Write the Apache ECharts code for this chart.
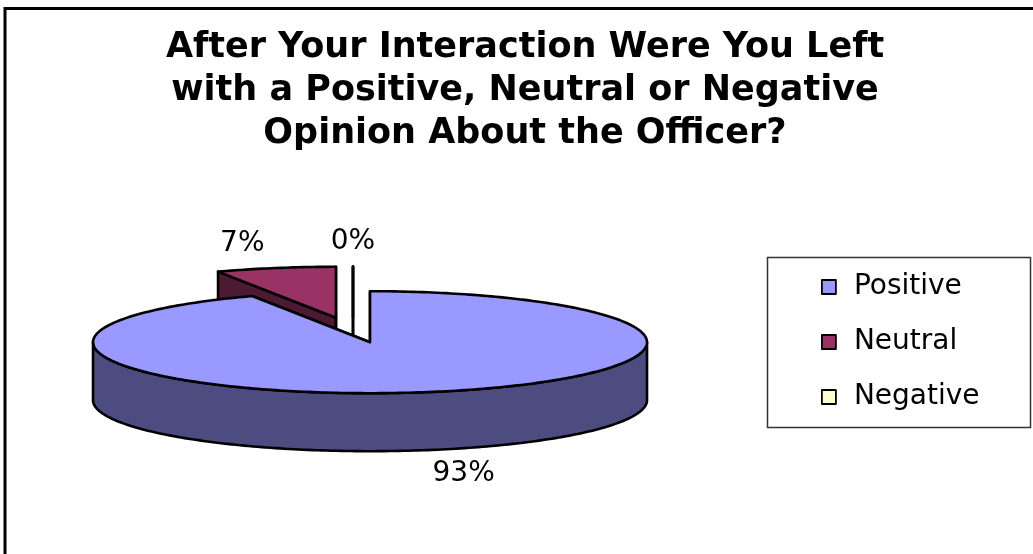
<!DOCTYPE html>
<html>
<head>
<meta charset="utf-8">
<script src="https://cdn.jsdelivr.net/npm/echarts@6/dist/echarts.min.js"></script>
<style>
html,body{margin:0;padding:0;background:#fff;}
#chart{width:1033px;height:554px;}
</style>
</head>
<body>
<div id="chart"></div>
<script>
// ---- data ----
const categories = ['Positive', 'Neutral', 'Negative'];
const values = [93, 7, 0];
const titleLines = [
  'After Your Interaction Were You Left',
  'with a Positive, Neutral or Negative',
  'Opinion About the Officer?'
];

// ---- styles ----
const topColors = ['#9999FF', '#993366', '#FFFFCC'];
const sideColors = ['#4C4C80', '#4C1A33', '#808066'];

// ---- 3D pie layout (pixels) ----
const PIE = {
  cx: 353, cy: 330,      // base centre of top ellipse
  rx: 277, ry: 51,       // ellipse radii
  depth: 58,             // thickness
  explodeX: 78, explodeY: 12.5,
  labelKx: 1.55, labelKy: 1.48
};

const rad = d => d * Math.PI / 180;
function pt(c, a, dy) {
  return [c[0] + PIE.rx * Math.sin(rad(a)), c[1] - PIE.ry * Math.cos(rad(a)) + (dy || 0)];
}
function arc(c, a0, a1, dy) {
  const pts = [];
  const n = Math.max(1, Math.ceil(Math.abs(a1 - a0) / 1));
  for (let i = 0; i <= n; i++) pts.push(pt(c, a0 + (a1 - a0) * i / n, dy));
  return pts;
}

function renderItem(params, api) {
  const n = params.dataInsideLength;
  let total = 0, before = 0;
  for (let i = 0; i < n; i++) {
    const v = api.value(0, i);
    total += v;
    if (i < params.dataIndexInside) before += v;
  }
  const v = api.value(0);
  const idx = params.dataIndex;
  const a0 = before / total * 360;
  const a1 = (before + v) / total * 360;
  const mid = (a0 + a1) / 2;
  const c = [PIE.cx + PIE.explodeX * Math.sin(rad(mid)), PIE.cy - PIE.explodeY * Math.cos(rad(mid))];
  const cb = [c[0], c[1] + PIE.depth];
  const base = Math.round(c[1] * 10) * 4;
  const stroke = { stroke: '#000', lineWidth: 2.6, lineJoin: 'round' };
  const children = [];
  // cut faces
  [a0, a1].forEach(a => {
    const e = pt(c, a), eb = pt(c, a, PIE.depth);
    children.push({
      type: 'polygon', z2: base,
      shape: { points: [c, e, eb, cb] },
      style: Object.assign({ fill: sideColors[idx] }, stroke)
    });
  });
  // outer wall (front half only)
  const w0 = Math.max(a0, 90), w1 = Math.min(a1, 270);
  if (w1 > w0) {
    const topArc = arc(c, w0, w1, 0);
    const botArc = arc(c, w0, w1, PIE.depth).reverse();
    children.push({
      type: 'polygon', z2: base + 1,
      shape: { points: topArc.concat(botArc) },
      style: Object.assign({ fill: sideColors[idx] }, stroke)
    });
  }
  // top surface
  children.push({
    type: 'polygon', z2: base + 2,
    shape: { points: [c].concat(arc(c, a0, a1, 0)) },
    style: Object.assign({ fill: topColors[idx] }, stroke)
  });
  // label
  const front = Math.cos(rad(mid)) < 0;
  const lx = c[0] + PIE.rx * PIE.labelKx * Math.sin(rad(mid));
  const ly = c[1] - PIE.ry * PIE.labelKy * Math.cos(rad(mid)) + (front ? PIE.depth : 0);
  children.push({
    type: 'text', z2: base + 3,
    style: {
      text: Math.round(v / total * 100) + '%',
      x: lx, y: ly, align: 'center', verticalAlign: 'middle',
      fill: '#000', font: '28px "DejaVu Sans"'
    }
  });
  return { type: 'group', children: children };
}

const chart = echarts.init(document.getElementById('chart'), null, { renderer: 'canvas' });
chart.setOption({
  backgroundColor: '#fff',
  animation: false,
  title: {
    text: titleLines.join('\n'),
    left: 525,
    top: 26,
    padding: 0,
    textAlign: 'center',
    textStyle: {
      fontFamily: 'DejaVu Sans', fontWeight: 'bold', fontSize: 35,
      lineHeight: 43, color: '#000'
    }
  },
  legend: {
    orient: 'vertical',
    left: 821, top: 273,
    padding: 0,
    itemWidth: 14, itemHeight: 14,
    itemGap: 27,
    icon: 'rect',
    selectedMode: false,
    itemStyle: { borderColor: '#000', borderWidth: 1.8 },
    textStyle: { fontFamily: 'DejaVu Sans', fontSize: 28, lineHeight: 28, color: '#000', padding: [0, 0, 0, 13] },
    data: categories
  },
  graphic: [
    { type: 'rect', z: 0, shape: { x: 5, y: 8.5, width: 1200, height: 700 },
      style: { fill: 'none', stroke: '#000', lineWidth: 3 } },
    { type: 'rect', z: 0, shape: { x: 767.5, y: 257.5, width: 263, height: 170 },
      style: { fill: 'none', stroke: '#333', lineWidth: 1.5 } }
  ],
  series: [
    {
      type: 'custom',
      name: 'Opinion',
      coordinateSystem: 'none',
      silent: true,
      renderItem: renderItem,
      data: values.map((v, i) => ({ name: categories[i], value: [v] }))
    },
    {
      type: 'pie',
      name: 'legend',
      silent: true,
      radius: [0, 0],
      center: [-200, -200],
      label: { show: false }, labelLine: { show: false },
      data: values.map((v, i) => ({ name: categories[i], value: v, itemStyle: { color: topColors[i] } }))
    }
  ]
});
</script>
</body>
</html>
